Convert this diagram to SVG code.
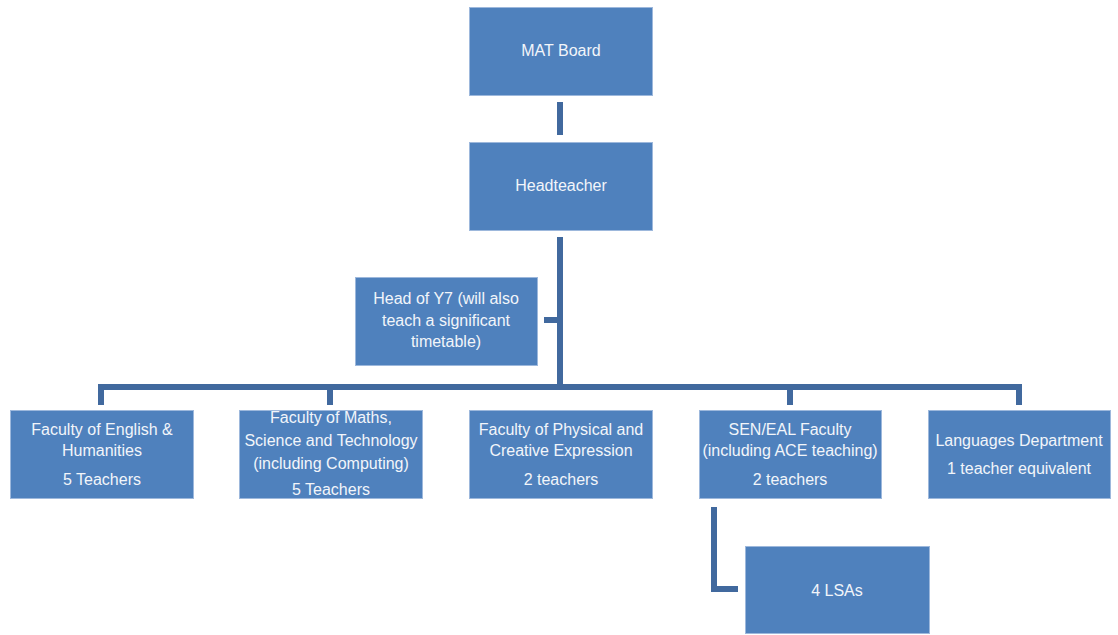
<svg xmlns="http://www.w3.org/2000/svg" width="1118" height="635" viewBox="0 0 1118 635">
<style>
.box{fill:#4F81BD;stroke:#9DB8DC;stroke-width:1}
.t{font-family:"Liberation Sans",Arial,sans-serif;font-size:16px;fill:#F2F5FA;text-anchor:middle}
.c{fill:none;stroke:#41699E;stroke-width:6}
</style>
<rect width="1118" height="635" fill="#FFFFFF"/>
<g id="connectors">
<path class="c" d="M560 102V135"/>
<path class="c" d="M560 237V390"/>
<path class="c" d="M544 320H560"/>
<path class="c" d="M101 405V387H1019V405"/>
<path class="c" d="M330 387V405"/>
<path class="c" d="M790 387V405"/>
<path class="c" d="M714 507V589H738"/>
</g>
<g id="mat-board"><rect class="box" x="469.5" y="7.5" width="183" height="88"/><text class="t" x="561" y="56">MAT Board</text></g>
<g id="headteacher"><rect class="box" x="469.5" y="142.5" width="183" height="88"/><text class="t" x="561" y="191">Headteacher</text></g>
<g id="head-y7"><rect class="box" x="355.5" y="277.5" width="182" height="88"/><text class="t" x="446" y="304">Head of Y7 (will also</text><text class="t" x="446" y="326">teach a significant</text><text class="t" x="446" y="347">timetable)</text></g>
<g id="english"><rect class="box" x="10.5" y="410.5" width="183" height="88"/><text class="t" x="102" y="435">Faculty of English &amp;</text><text class="t" x="102" y="456">Humanities</text><text class="t" x="102" y="485">5 Teachers</text></g>
<g id="maths"><rect class="box" x="239.5" y="410.5" width="183" height="88"/><text class="t" x="331" y="423">Faculty of Maths,</text><text class="t" x="331" y="446">Science and Technology</text><text class="t" x="331" y="469">(including Computing)</text><text class="t" x="331" y="495">5 Teachers</text></g>
<g id="physical"><rect class="box" x="469.5" y="410.5" width="183" height="88"/><text class="t" x="561" y="435">Faculty of Physical and</text><text class="t" x="561" y="456">Creative Expression</text><text class="t" x="561" y="485">2 teachers</text></g>
<g id="sen-eal"><rect class="box" x="699.5" y="410.5" width="182" height="88"/><text class="t" x="790" y="435">SEN/EAL Faculty</text><text class="t" x="790" y="456">(including ACE teaching)</text><text class="t" x="790" y="485">2 teachers</text></g>
<g id="languages"><rect class="box" x="928.5" y="410.5" width="182" height="88"/><text class="t" x="1019" y="446">Languages Department</text><text class="t" x="1019" y="474">1 teacher equivalent</text></g>
<g id="lsas"><rect class="box" x="745.5" y="546.5" width="184" height="87"/><text class="t" x="837" y="596">4 LSAs</text></g>
</svg>
